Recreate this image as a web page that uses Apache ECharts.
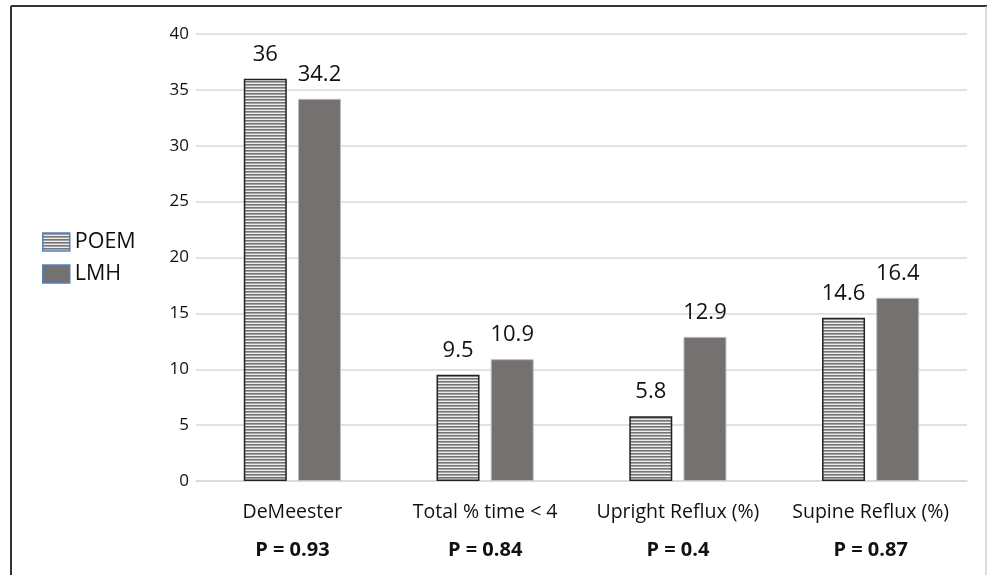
<!DOCTYPE html>
<html>
<head>
<meta charset="utf-8">
<script src="https://cdn.jsdelivr.net/npm/echarts@6/dist/echarts.min.js"></script>
<style>
  html, body { margin: 0; padding: 0; background: #fff; }
  #chart { width: 987px; height: 575px; }
</style>
</head>
<body>
<div id="chart"></div>
<script>
const categories = ['DeMeester', 'Total % time < 4', 'Upright Reflux (%)', 'Supine Reflux (%)']
const pValues = ['P = 0.93', 'P = 0.84', 'P = 0.4', 'P = 0.87']
const poem = [36, 9.5, 5.8, 14.6]
const lmh = [34.2, 10.9, 12.9, 16.4]

// horizontal stripe fill for POEM bars
function stripes() {
  const c = document.createElement('canvas')
  c.width = 4
  c.height = 3
  const ctx = c.getContext('2d')
  ctx.fillStyle = '#ececec'
  ctx.fillRect(0, 0, 4, 3)
  ctx.fillStyle = '#757575'
  ctx.fillRect(0, 0, 4, 1)
  ctx.fillStyle = '#a3a3a3'
  ctx.fillRect(0, 1, 4, 1)
  return c
}

const font = "'Open Sans', sans-serif"
const chart = echarts.init(document.getElementById('chart'))

const option = {
  backgroundColor: '#fff',
  animation: false,
  textStyle: { fontFamily: font },
  graphic: [
    { type: 'line', shape: { x1: 11, y1: 6, x2: 987, y2: 6 }, style: { stroke: '#333', lineWidth: 2 } },
    { type: 'line', shape: { x1: 11, y1: 6, x2: 11, y2: 575 }, style: { stroke: '#333', lineWidth: 2 } },
    { type: 'line', shape: { x1: 986, y1: 6, x2: 986, y2: 575 }, style: { stroke: '#bbb', lineWidth: 1 } }
  ],
  legend: {
    orient: 'vertical',
    left: 37,
    top: 226,
    itemWidth: 27,
    itemHeight: 18,
    itemGap: 10,
    icon: 'rect',
    textStyle: { fontSize: 21.5, color: '#111', fontFamily: font },
    itemStyle: { borderColor: '#4f81bd', borderWidth: 1.5 },
    data: ['POEM', 'LMH']
  },
  grid: { left: 196, right: 20, top: 34, bottom: 94 },
  xAxis: {
    type: 'category',
    data: categories,
    axisLine: { lineStyle: { color: '#d9d9d9', width: 1.5 } },
    axisTick: { show: false },
    axisLabel: {
      margin: 12,
      formatter: (v, i) => '{c|' + v + '}\n{p|' + pValues[i] + '}',
      rich: {
        c: { fontSize: 19.5, color: '#111', lineHeight: 38, fontFamily: font },
        p: { fontSize: 20, color: '#111', fontWeight: 'bold', lineHeight: 38, fontFamily: font }
      }
    }
  },
  yAxis: {
    type: 'value',
    min: 0,
    max: 40,
    interval: 5,
    axisLine: { show: false },
    axisTick: { show: false },
    splitLine: { lineStyle: { color: '#d9d9d9', width: 1.5 } },
    axisLabel: { fontSize: 17, color: '#111', margin: 7, fontFamily: font }
  },
  series: [
    {
      name: 'POEM',
      type: 'bar',
      data: poem,
      barWidth: 43,
      barGap: '26%',
      itemStyle: {
        color: { image: stripes(), repeat: 'repeat' },
        borderColor: '#222',
        borderWidth: 1.5
      },
      label: { show: true, position: 'top', distance: 13, fontSize: 22, color: '#111', fontFamily: font }
    },
    {
      name: 'LMH',
      type: 'bar',
      data: lmh,
      barWidth: 43,
      itemStyle: { color: '#767171', borderColor: '#bdbdbd', borderWidth: 1 },
      label: { show: true, position: 'top', distance: 13, fontSize: 22, color: '#111', fontFamily: font }
    }
  ]
}

chart.setOption(option)
</script>
</body>
</html>
